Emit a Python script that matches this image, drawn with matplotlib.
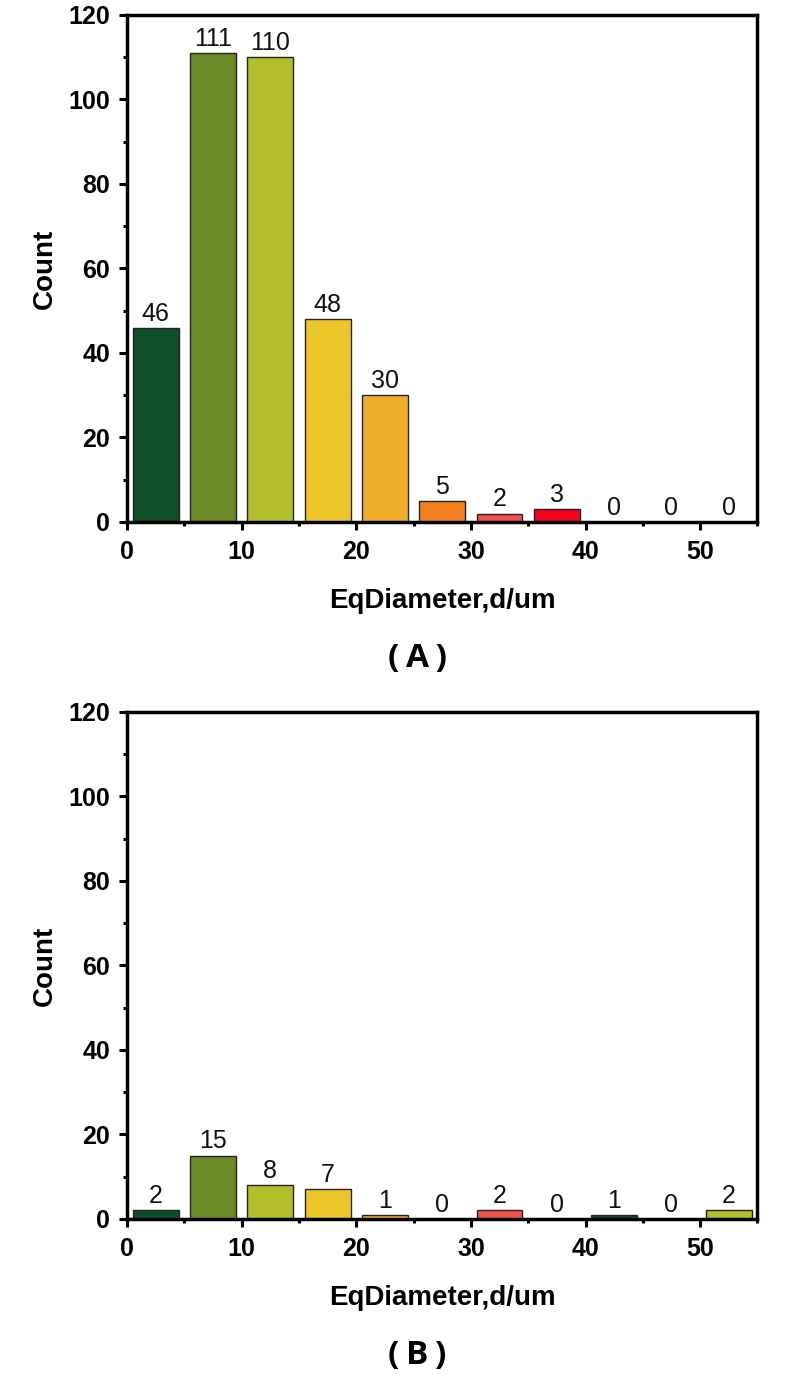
import numpy as np
import matplotlib
matplotlib.use('Agg')
import matplotlib.pyplot as plt
from matplotlib.ticker import MultipleLocator

plt.rcParams['font.family'] = ['Liberation Sans', 'DejaVu Sans']

# bin centres of the diameter histogram (um), 5 um wide bins
bin_centres = [2.5, 7.5, 12.5, 17.5, 22.5, 27.5, 32.5, 37.5, 42.5, 47.5, 52.5]
counts_a = [46, 111, 110, 48, 30, 5, 2, 3, 0, 0, 0]
counts_b = [2, 15, 8, 7, 1, 0, 2, 0, 1, 0, 2]
panel_tags = ['(\u2009A\u2009)', '(\u2009B\u2009)']

bar_colors = ['#0f4f28', '#6b8a27', '#b4bd2a', '#ecc62b', '#eeae2c', '#f47f21',
              '#f2504c', '#f7001e', '#0f4f28', '#6b8a27', '#b4bd2a']

fig = plt.figure(figsize=(7.91, 13.75), dpi=100)
ax_a = fig.add_axes([0.1606, 0.6204, 0.7970, 0.3687])
ax_b = fig.add_axes([0.1606, 0.1135, 0.7970, 0.3687])


def draw_panel(ax, counts, tag):
    bars = ax.bar(bin_centres, counts, width=4, color=bar_colors,
                  edgecolor='#222222', linewidth=1.0, zorder=2)
    ax.bar_label(bars, labels=[str(c) for c in counts], padding=1.5,
                 fontsize=18, color='#111111')

    ax.set_xlim(0, 55)
    ax.set_ylim(0, 120)
    ax.xaxis.set_major_locator(MultipleLocator(10))
    ax.xaxis.set_minor_locator(MultipleLocator(5))
    ax.yaxis.set_major_locator(MultipleLocator(20))
    ax.yaxis.set_minor_locator(MultipleLocator(10))

    for s in ax.spines.values():
        s.set_linewidth(2.5)
        s.set_color('black')
    ax.tick_params(which='major', direction='out', length=6, width=2.2,
                   labelsize=18, pad=6)
    ax.tick_params(axis='x', which='major', pad=7)
    ax.tick_params(which='minor', direction='out', length=3, width=2.2)
    ax.tick_params(top=False, right=False, which='both')
    for lab in ax.get_xticklabels() + ax.get_yticklabels():
        lab.set_fontweight('bold')

    ax.set_xlabel('EqDiameter,d/um', fontsize=20, fontweight='bold', labelpad=17)
    ax.set_ylabel('Count', fontsize=20, fontweight='bold', labelpad=8)

    pos = ax.get_position()
    fig.text(0.528, pos.y0 - 137 / 1375, tag, ha='center', va='center',
             fontsize=24, fontweight='bold', family=['Open Sans', 'DejaVu Sans'])


draw_panel(ax_a, counts_a, panel_tags[0])
draw_panel(ax_b, counts_b, panel_tags[1])

fig.savefig('out.png', dpi=100, facecolor='white')
